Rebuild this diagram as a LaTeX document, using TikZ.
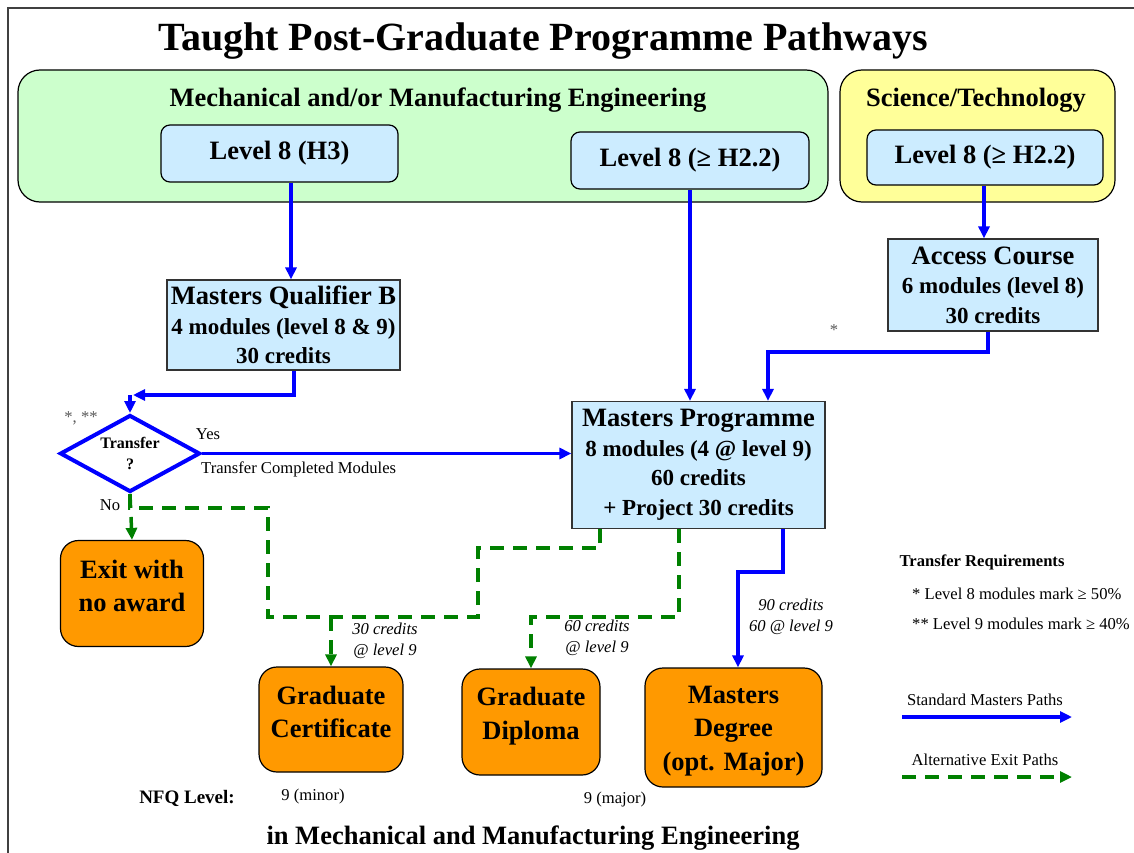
\documentclass[tikz,border=0pt]{standalone}
\usepackage{fontspec}
\setmainfont{Liberation Serif}
\usetikzlibrary{arrows.meta,shapes.geometric,calc}

\definecolor{lgreen}{HTML}{CCFFCC}
\definecolor{lyellow}{HTML}{FFFF99}
\definecolor{lblue}{HTML}{CCECFF}
\definecolor{orng}{HTML}{FF9900}
\definecolor{dgreen}{HTML}{008000}
\definecolor{bblue}{HTML}{0000FF}

\newcommand\fbig{\fontsize{26.5}{30}\selectfont\bfseries}
\newcommand\fsub{\fontsize{23}{29.5}\selectfont\bfseries}
\newcommand\fsmall{\fontsize{16.6}{21}\selectfont}

\begin{document}
\begin{tikzpicture}[x=1pt,y=-1pt,
  region/.style={draw=black, line width=1.2pt, rounded corners=22pt, inner sep=0pt},
  lvlbox/.style={draw=black, line width=1.2pt, fill=lblue, rounded corners=9pt, inner sep=0pt, font=\fbig},
  progbox/.style={draw=black!80, line width=1.2pt, fill=lblue, inner sep=0pt, align=center, font=\fsub},
  award/.style={draw=black, line width=1.2pt, fill=orng, rounded corners=18pt, inner sep=0pt},
  awardtext/.style={inner sep=0pt, align=center, font=\fontsize{26.5}{33.5}\selectfont\bfseries},
  std/.style={draw=bblue, line width=3.5pt, -{Triangle[length=12pt,width=11pt]}},
  alt/.style={draw=dgreen, line width=3.5pt, dash pattern=on 14pt off 9pt},
  altarrow/.style={alt, -{Triangle[length=12pt,width=11pt]}},
  lbl/.style={font=\fsmall, inner sep=0pt},
  ilbl/.style={font=\fsmall\itshape, inner sep=0pt, align=center},
]
\useasboundingbox (0,0) rectangle (1134,853);
\fill[white] (0,0) rectangle (1134,853);

% frame
\coordinate (f1) at (8,853);
\coordinate (f2) at (8,8);
\coordinate (f3) at (1134,8);
\draw[black!75, line width=1.5pt] (f1) -- (f2) -- (f3);

% title
\node[font=\fontsize{40}{48}\selectfont\bfseries] (title) at (543,41) {Taught Post-Graduate Programme Pathways};

% regions
\node[region, fill=lgreen, minimum width=810pt, minimum height=132pt] (mech) at (423,136) {};
\node[font=\fbig] (mechtitle) at (438,100) {Mechanical and/or Manufacturing Engineering};
\node[lvlbox, minimum width=237pt, minimum height=57pt] (l8h3) at (279.5,153.5) {Level 8 (H3)};
\node[lvlbox, minimum width=238pt, minimum height=57pt] (l8b) at (690,160.5) {Level 8 (≥ H2.2)};

\node[region, fill=lyellow, minimum width=275pt, minimum height=132pt] (sci) at (977.5,136) {};
\node[font=\fbig] (scititle) at (976,100) {Science/Technology};
\node[lvlbox, minimum width=236pt, minimum height=55pt] (l8y) at (985,157.5) {Level 8 (≥ H2.2)};

% programme boxes
\node[progbox, minimum width=210pt, minimum height=92pt] (acc) at (993,285) {{\fbig Access Course}\\6 modules (level 8)\\30 credits};
\node[progbox, minimum width=233pt, minimum height=90pt] (mqb) at (283.5,325) {{\fbig Masters Qualifier B}\\4 modules (level 8 \& 9)\\30 credits};
\node[diamond, draw=bblue, line width=4pt, fill=white, minimum width=140pt, minimum height=77pt, aspect=1.82, inner sep=0pt, align=center, font=\fontsize{16}{21}\selectfont\bfseries] (tr) at (130,453.5) {Transfer\\?};
\node[progbox, minimum width=253pt, minimum height=127pt] (mp) at (698.5,465) {{\fbig Masters Programme}\\8 modules (4 @ level 9)\\60 credits\\+ Project 30 credits};

% awards
\node[award, minimum width=143pt, minimum height=106pt] (exit) at (132,593.5) {};
\node[awardtext] (exitT) at (132,586) {Exit with\\no award};
\node[award, minimum width=144pt, minimum height=105pt] (gc) at (331,719.5) {};
\node[awardtext] (gcT) at (331,712) {Graduate\\Certificate};
\node[award, minimum width=138pt, minimum height=106pt] (gd) at (531,722) {};
\node[awardtext] (gdT) at (531,716) {Graduate\\Diploma};
\node[award, minimum width=177pt, minimum height=119pt] (md) at (733.5,727.5) {};
\node[awardtext] (mdT) at (733.5,731) {Masters\\Degree\\(opt. Major)};

% labels
\node[lbl, text=black!65] (stars) at (81,418) {*, **};
\node[lbl, text=black!65] (star) at (834,330) {*};
\node[lbl] (yes) at (208,434) {Yes};
\node[lbl, anchor=west] (tcm) at (201,469) {Transfer Completed Modules};
\node[lbl] (no) at (110,505) {No};
\node[ilbl] (c30) at (385,641) {30 credits\\@ level 9};
\node[ilbl] (c60) at (597,638) {60 credits\\@ level 9};
\node[ilbl] (c90) at (791,617) {90 credits\\60 @ level 9};

\node[font=\fontsize{19}{22}\selectfont\bfseries] (nfq) at (187,798) {NFQ Level:};
\node[lbl] (minor) at (313,796) {9 (minor)};
\node[lbl] (major) at (615,799) {9 (major)};
\node[font=\fontsize{26.5}{30}\selectfont\bfseries] (bottom) at (533,838) {in Mechanical and Manufacturing Engineering};

% connectors
\coordinate (a1) at (291,0);
\draw[std] (l8h3.south -| a1) -- (mqb.north -| a1);
\coordinate (a2) at (294,395);
\coordinate (a3) at (133,395);
\draw[std] (mqb.south -| a2) -- (a2) -- (a3);
\draw[std] (a3 -| tr.north) -- (tr.north);
\draw[std] (tr.east) -- (tr.east -| mp.west);

\coordinate (g1) at (268,508);
\coordinate (g2) at (478,617);
\coordinate (g3) at (600,548);
\draw[alt] (tr.south) |- (g1) |- (g2) |- (g3) -- (mp.south -| g3);
\draw[altarrow] (tr.south) -- (exit.north);
\draw[altarrow] (gc.north |- g2) -- (gc.north);
\coordinate (g4) at (679,617);
\draw[altarrow] (mp.south -| g4) -- (g4) -| (gd.north);

\coordinate (b1) at (783,572);
\coordinate (b2) at (738,572);
\draw[std] (mp.south -| b1) -- (b1) -- (b2) -- (md.north -| b2);
\coordinate (b3) at (988,352);
\coordinate (b4) at (768,352);
\draw[std] (acc.south -| b3) -- (b3) -- (b4) -- (mp.north -| b4);
\draw[std] (l8b.south) -- (l8b.south |- mp.north);
\coordinate (b5) at (984,0);
\draw[std] (l8y.south -| b5) -- (acc.north -| b5);

% legend
\node[font=\fontsize{16.6}{20}\selectfont\bfseries] (treq) at (982,562) {Transfer Requirements};
\node[lbl, anchor=west] (r1) at (912,594) {* Level 8 modules mark ≥ 50\%};
\node[lbl, anchor=west] (r2) at (912,624) {** Level 9 modules mark ≥ 40\%};
\node[lbl] (lstd) at (985,700) {Standard Masters Paths};
\node[lbl] (lalt) at (985,760) {Alternative Exit Paths};
\coordinate (ls1) at (902,717);
\coordinate (ls2) at (1072,717);
\draw[std] (ls1) -- (ls2);
\coordinate (la1) at (902,777);
\coordinate (la2) at (1072,777);
\draw[altarrow] (la1) -- (la2);
\end{tikzpicture}
\end{document}
